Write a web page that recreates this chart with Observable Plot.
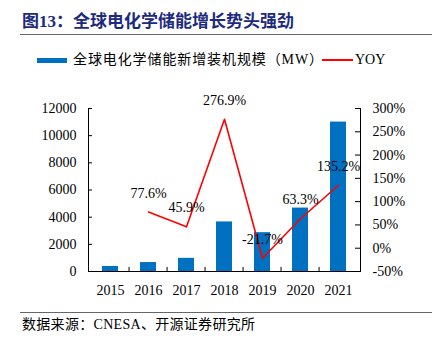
<!DOCTYPE html>
<html><head><meta charset="utf-8">
<script src="https://cdn.jsdelivr.net/npm/d3@7"></script>
<script src="https://cdn.jsdelivr.net/npm/@observablehq/plot@0.6"></script>
<style>
body{margin:0;width:440px;height:345px;position:relative;background:#fff;overflow:hidden;font-family:"Liberation Serif","Noto Sans CJK SC",serif;color:#000;}
#title{position:absolute;left:22px;top:11px;font-size:17px;font-weight:bold;color:#1c2a80;letter-spacing:0px;white-space:nowrap;line-height:22px;}
.hr{position:absolute;left:20px;width:412px;height:1px;background:#666;}
#legend{position:absolute;left:37px;top:51px;height:18px;font-size:14px;white-space:nowrap;line-height:18px;}
#legend span{position:absolute;top:0;}
#chart{position:absolute;left:0;top:75px;}
#caption{position:absolute;left:22px;top:316px;font-size:14px;letter-spacing:0.3px;white-space:nowrap;line-height:18px;}
</style></head><body>
<div id="title">图13：全球电化学储能增长势头强劲</div>
<div class="hr" style="top:34px"></div>
<div id="chart"></div>
<div id="legend">
  <span style="left:0;top:7px;width:30px;height:5px;background:#0070C0"></span>
  <span id="lg1" style="left:36px;letter-spacing:0.9px">全球电化学储能新增装机规模（MW）</span>
  <span style="left:285px;top:8px;width:31px;height:1.5px;background:#FF0000"></span>
  <span id="lg2" style="left:318px">YOY</span>
</div>
<div class="hr" style="top:312px"></div>
<div id="caption">数据来源：CNESA、开源证券研究所</div>
<script>
const years = ["2015", "2016", "2017", "2018", "2019", "2020", "2021"];
const capacity = [370, 660, 970, 3650, 2860, 4670, 11000];
const yoyYears = ["2016", "2017", "2018", "2019", "2020", "2021"];
const yoy = [77.6, 45.9, 276.9, -21.7, 63.3, 135.2];
const leftTicks = [0, 2000, 4000, 6000, 8000, 10000, 12000];
const rightTicks = [-50, 0, 50, 100, 150, 200, 250, 300];

const yMax = 12000, pMin = -50, pMax = 300;
const toY = p => (p - pMin) / (pMax - pMin) * yMax;

const bars = years.map((y, i) => ({year: y, value: capacity[i]}));
const line = yoyYears.map((y, i) => ({year: y, yoy: yoy[i], yv: toY(yoy[i])}));

const font = '"Liberation Serif","Noto Sans CJK SC",serif';
const chart = Plot.plot({
  width: 440,
  height: 230,
  marginTop: 33,
  marginBottom: 34,
  marginLeft: 88,
  marginRight: 80,
  style: {fontFamily: font, fontSize: "14px", color: "#000", background: "transparent"},
  x: {domain: years, paddingInner: 0.59, paddingOuter: 0.295, label: null},
  y: {domain: [0, yMax], label: null},
  marks: [
    Plot.barY(bars, {x: "year", y: "value", fill: "#0070C0"}),
    Plot.lineY(line, {x: "year", y: "yv", stroke: "#FF0000", strokeWidth: 1.6}),
    Plot.text(line, {x: "year", y: "yv", text: d => d.yoy.toFixed(1) + "%", dy: -19, fontSize: 14, fill: "#000"}),
    Plot.axisY(leftTicks, {anchor: "left", tickSize: 0, tickPadding: 12, label: null, fontSize: 14, tickFormat: d => String(d)}),
    Plot.axisY(rightTicks.map(toY), {anchor: "right", tickSize: 0, tickPadding: 12, label: null, fontSize: 14,
      tickFormat: v => Math.round(v / yMax * (pMax - pMin) + pMin) + "%"}),
    Plot.axisX({anchor: "bottom", tickSize: 0, tickPadding: 14, label: null, fontSize: 14}),
    Plot.tickY(leftTicks, {y: d => d, insetRight: 268, stroke: "#000"}),
    Plot.tickY(rightTicks.map(toY), {y: d => d, insetLeft: 267, stroke: "#000"}),
    Plot.ruleX(years.slice(1), {x: d => d, y1: 0, y2: 300, dx: -19.43, stroke: "#000"}),
    Plot.frame({anchor: "left", stroke: "#000"}),
    Plot.frame({anchor: "right", stroke: "#000"}),
    Plot.ruleY([0], {stroke: "#000"})
  ]
});
document.getElementById("chart").appendChild(chart);
</script>
</body></html>
